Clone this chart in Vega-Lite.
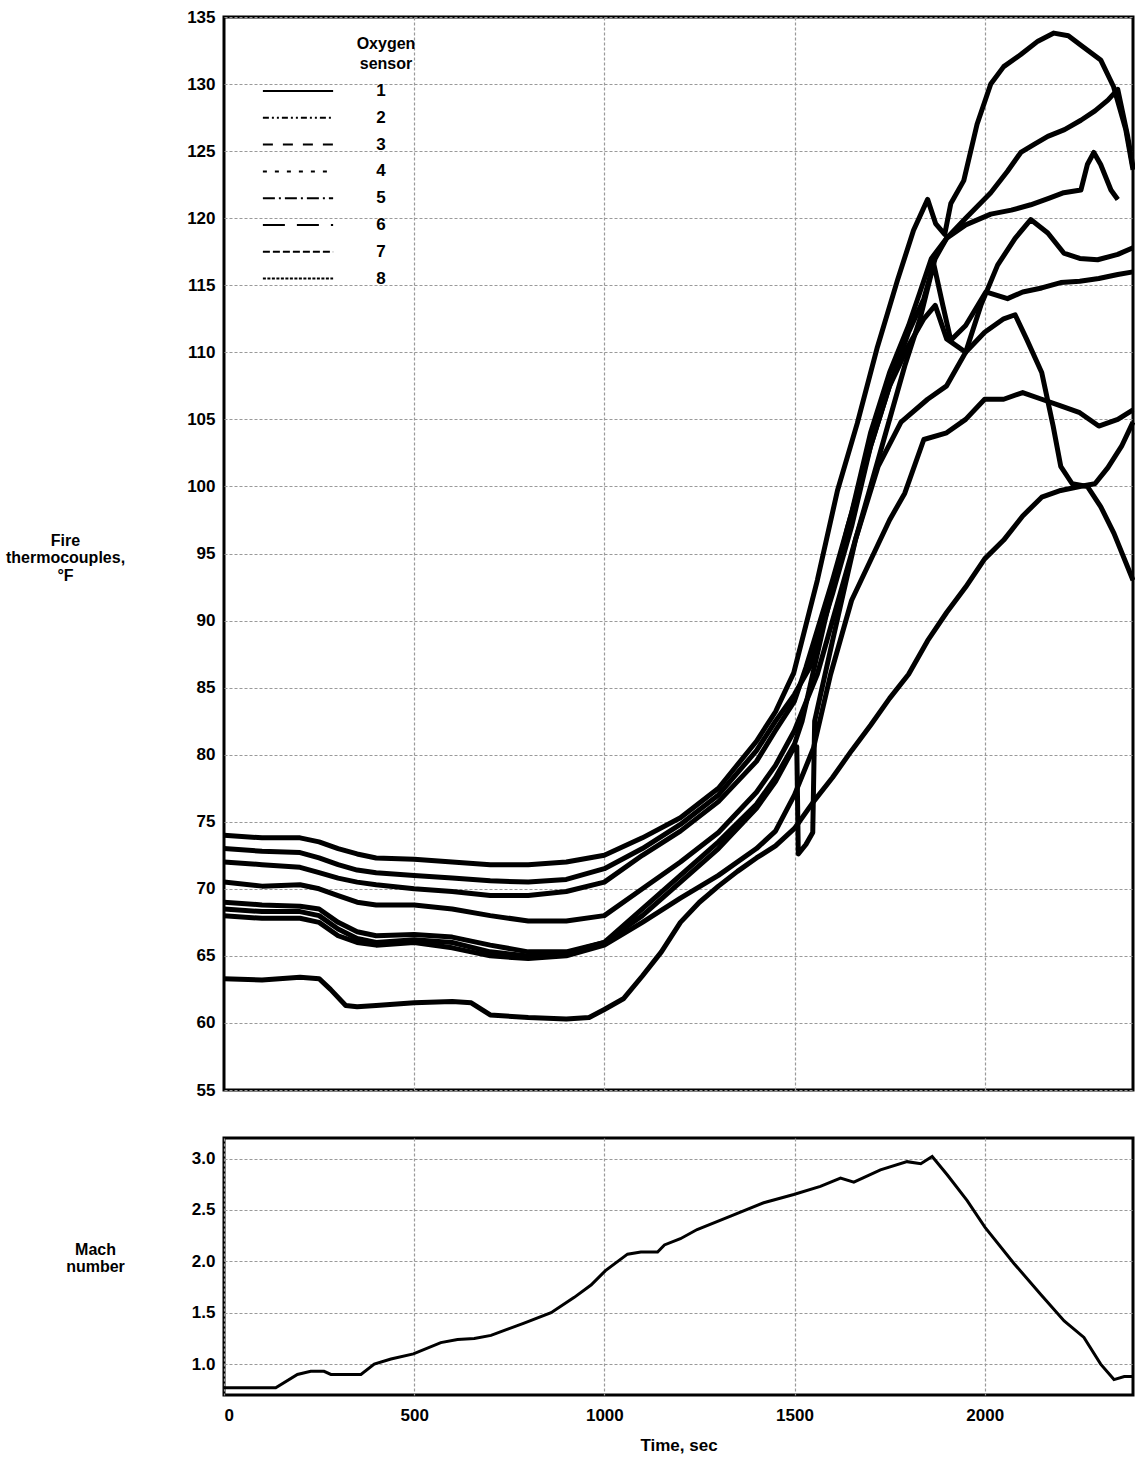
{
  "$schema": "https://vega.github.io/schema/vega-lite/v6.json",
  "padding": {"left": 3, "top": 6, "right": 0, "bottom": 0},
  "background": "white",
  "config": {
    "font": "Liberation Sans",
    "view": {"stroke": "black", "strokeWidth": 3},
    "axis": {
      "labelFont": "Liberation Sans", "labelFontSize": 17, "labelFontWeight": "bold", "labelColor": "black",
      "titleFont": "Liberation Sans", "titleFontSize": 16, "titleFontWeight": "bold", "titleColor": "black",
      "grid": true, "gridColor": "#9a9a9a", "gridDash": [3, 2], "gridWidth": 1.2,
      "domain": false, "ticks": false
    },
    "legend": {"labelFont": "Liberation Sans", "titleFont": "Liberation Sans"}
  },
  "datasets": {
    "tc": [
      {"s":"7","t":0,"v":74},{"s":"7","t":100,"v":73.8},{"s":"7","t":200,"v":73.8},{"s":"7","t":250,"v":73.5},{"s":"7","t":300,"v":73},{"s":"7","t":350,"v":72.6},{"s":"7","t":400,"v":72.3},{"s":"7","t":500,"v":72.2},{"s":"7","t":600,"v":72},{"s":"7","t":700,"v":71.8},{"s":"7","t":800,"v":71.8},{"s":"7","t":900,"v":72},{"s":"7","t":1000,"v":72.5},{"s":"7","t":1100,"v":73.8},{"s":"7","t":1200,"v":75.3},{"s":"7","t":1300,"v":77.5},{"s":"7","t":1400,"v":81},{"s":"7","t":1450,"v":83.2},{"s":"7","t":1498,"v":86.1},{"s":"7","t":1560,"v":93},{"s":"7","t":1613,"v":99.7},{"s":"7","t":1665,"v":104.7},{"s":"7","t":1718,"v":110.4},{"s":"7","t":1771,"v":115.4},{"s":"7","t":1813,"v":119.1},{"s":"7","t":1850,"v":121.4},{"s":"7","t":1871,"v":119.6},{"s":"7","t":1895,"v":118.8},{"s":"7","t":1911,"v":121.1},{"s":"7","t":1945,"v":122.8},{"s":"7","t":1980,"v":127},{"s":"7","t":2016,"v":130},{"s":"7","t":2050,"v":131.3},{"s":"7","t":2095,"v":132.2},{"s":"7","t":2140,"v":133.2},{"s":"7","t":2182,"v":133.8},{"s":"7","t":2220,"v":133.6},{"s":"7","t":2253,"v":132.9},{"s":"7","t":2305,"v":131.8},{"s":"7","t":2339,"v":129.8},{"s":"7","t":2371,"v":126.6},{"s":"7","t":2390,"v":123.6},
      {"s":"3","t":0,"v":73},{"s":"3","t":100,"v":72.8},{"s":"3","t":200,"v":72.7},{"s":"3","t":250,"v":72.3},{"s":"3","t":300,"v":71.8},{"s":"3","t":350,"v":71.4},{"s":"3","t":400,"v":71.2},{"s":"3","t":500,"v":71},{"s":"3","t":600,"v":70.8},{"s":"3","t":700,"v":70.6},{"s":"3","t":800,"v":70.5},{"s":"3","t":900,"v":70.7},{"s":"3","t":1000,"v":71.5},{"s":"3","t":1100,"v":73},{"s":"3","t":1200,"v":74.8},{"s":"3","t":1300,"v":77},{"s":"3","t":1400,"v":80.3},{"s":"3","t":1450,"v":82.5},{"s":"3","t":1500,"v":84.5},{"s":"3","t":1540,"v":86.5},{"s":"3","t":1600,"v":92},{"s":"3","t":1650,"v":97},{"s":"3","t":1700,"v":103},{"s":"3","t":1750,"v":107.5},{"s":"3","t":1800,"v":111.5},{"s":"3","t":1840,"v":114},{"s":"3","t":1870,"v":117},{"s":"3","t":1900,"v":118.5},{"s":"3","t":1950,"v":120},{"s":"3","t":2016,"v":121.9},{"s":"3","t":2060,"v":123.5},{"s":"3","t":2095,"v":124.9},{"s":"3","t":2130,"v":125.5},{"s":"3","t":2166,"v":126.1},{"s":"3","t":2210,"v":126.6},{"s":"3","t":2253,"v":127.3},{"s":"3","t":2290,"v":128},{"s":"3","t":2324,"v":128.8},{"s":"3","t":2350,"v":129.6},{"s":"3","t":2376,"v":126.1},{"s":"3","t":2390,"v":123.8},
      {"s":"6","t":0,"v":72},{"s":"6","t":100,"v":71.8},{"s":"6","t":200,"v":71.6},{"s":"6","t":250,"v":71.2},{"s":"6","t":300,"v":70.8},{"s":"6","t":350,"v":70.5},{"s":"6","t":400,"v":70.3},{"s":"6","t":500,"v":70},{"s":"6","t":600,"v":69.8},{"s":"6","t":700,"v":69.5},{"s":"6","t":800,"v":69.5},{"s":"6","t":900,"v":69.8},{"s":"6","t":1000,"v":70.5},{"s":"6","t":1100,"v":72.5},{"s":"6","t":1200,"v":74.3},{"s":"6","t":1300,"v":76.5},{"s":"6","t":1400,"v":79.5},{"s":"6","t":1450,"v":81.8},{"s":"6","t":1500,"v":84},{"s":"6","t":1530,"v":86.5},{"s":"6","t":1600,"v":93},{"s":"6","t":1650,"v":98},{"s":"6","t":1700,"v":104},{"s":"6","t":1750,"v":108.5},{"s":"6","t":1800,"v":112},{"s":"6","t":1830,"v":114.5},{"s":"6","t":1860,"v":117},{"s":"6","t":1900,"v":118.5},{"s":"6","t":1950,"v":119.5},{"s":"6","t":2016,"v":120.3},{"s":"6","t":2070,"v":120.6},{"s":"6","t":2121,"v":121},{"s":"6","t":2170,"v":121.5},{"s":"6","t":2208,"v":121.9},{"s":"6","t":2253,"v":122.1},{"s":"6","t":2270,"v":124},{"s":"6","t":2287,"v":124.9},{"s":"6","t":2305,"v":124},{"s":"6","t":2332,"v":122.1},{"s":"6","t":2350,"v":121.4},
      {"s":"5","t":0,"v":70.5},{"s":"5","t":100,"v":70.2},{"s":"5","t":200,"v":70.3},{"s":"5","t":250,"v":70},{"s":"5","t":300,"v":69.5},{"s":"5","t":350,"v":69},{"s":"5","t":400,"v":68.8},{"s":"5","t":500,"v":68.8},{"s":"5","t":600,"v":68.5},{"s":"5","t":700,"v":68},{"s":"5","t":800,"v":67.6},{"s":"5","t":900,"v":67.6},{"s":"5","t":1000,"v":68},{"s":"5","t":1100,"v":70},{"s":"5","t":1200,"v":72},{"s":"5","t":1300,"v":74.2},{"s":"5","t":1400,"v":77.2},{"s":"5","t":1450,"v":79.2},{"s":"5","t":1500,"v":81.8},{"s":"5","t":1560,"v":86},{"s":"5","t":1620,"v":92},{"s":"5","t":1680,"v":98},{"s":"5","t":1740,"v":104},{"s":"5","t":1790,"v":109},{"s":"5","t":1830,"v":112.5},{"s":"5","t":1866,"v":116.6},{"s":"5","t":1890,"v":113.5},{"s":"5","t":1911,"v":110.9},{"s":"5","t":1950,"v":112},{"s":"5","t":2003,"v":114.5},{"s":"5","t":2060,"v":114},{"s":"5","t":2100,"v":114.5},{"s":"5","t":2150,"v":114.8},{"s":"5","t":2200,"v":115.2},{"s":"5","t":2250,"v":115.3},{"s":"5","t":2300,"v":115.5},{"s":"5","t":2350,"v":115.8},{"s":"5","t":2390,"v":116},
      {"s":"2","t":0,"v":68.5},{"s":"2","t":100,"v":68.3},{"s":"2","t":200,"v":68.3},{"s":"2","t":250,"v":68},{"s":"2","t":300,"v":67},{"s":"2","t":350,"v":66.3},{"s":"2","t":400,"v":66},{"s":"2","t":500,"v":66.2},{"s":"2","t":600,"v":66},{"s":"2","t":700,"v":65.3},{"s":"2","t":800,"v":65},{"s":"2","t":900,"v":65.2},{"s":"2","t":1000,"v":66},{"s":"2","t":1100,"v":68.5},{"s":"2","t":1200,"v":71},{"s":"2","t":1300,"v":73.5},{"s":"2","t":1400,"v":76.3},{"s":"2","t":1450,"v":78.3},{"s":"2","t":1500,"v":80.8},{"s":"2","t":1520,"v":82.5},{"s":"2","t":1580,"v":90},{"s":"2","t":1640,"v":97},{"s":"2","t":1700,"v":103},{"s":"2","t":1750,"v":107.5},{"s":"2","t":1800,"v":110.5},{"s":"2","t":1840,"v":112.5},{"s":"2","t":1870,"v":113.5},{"s":"2","t":1900,"v":111},{"s":"2","t":1950,"v":110},{"s":"2","t":2000,"v":111.5},{"s":"2","t":2050,"v":112.5},{"s":"2","t":2080,"v":112.8},{"s":"2","t":2110,"v":111},{"s":"2","t":2150,"v":108.5},{"s":"2","t":2180,"v":104.5},{"s":"2","t":2200,"v":101.5},{"s":"2","t":2230,"v":100.2},{"s":"2","t":2270,"v":100},{"s":"2","t":2305,"v":98.5},{"s":"2","t":2340,"v":96.5},{"s":"2","t":2390,"v":93},
      {"s":"4","t":0,"v":69},{"s":"4","t":100,"v":68.8},{"s":"4","t":200,"v":68.7},{"s":"4","t":250,"v":68.5},{"s":"4","t":300,"v":67.5},{"s":"4","t":350,"v":66.8},{"s":"4","t":400,"v":66.5},{"s":"4","t":500,"v":66.6},{"s":"4","t":600,"v":66.4},{"s":"4","t":700,"v":65.8},{"s":"4","t":800,"v":65.3},{"s":"4","t":900,"v":65.3},{"s":"4","t":1000,"v":66},{"s":"4","t":1100,"v":68},{"s":"4","t":1200,"v":70.5},{"s":"4","t":1300,"v":73},{"s":"4","t":1400,"v":76},{"s":"4","t":1450,"v":78},{"s":"4","t":1500,"v":80.6},{"s":"4","t":1506,"v":80.6},{"s":"4","t":1510,"v":72.6},{"s":"4","t":1530,"v":73.3},{"s":"4","t":1548,"v":74.2},{"s":"4","t":1553,"v":82.5},{"s":"4","t":1600,"v":88.5},{"s":"4","t":1660,"v":96},{"s":"4","t":1720,"v":101.5},{"s":"4","t":1780,"v":104.8},{"s":"4","t":1850,"v":106.5},{"s":"4","t":1900,"v":107.5},{"s":"4","t":1950,"v":110},{"s":"4","t":1990,"v":113.5},{"s":"4","t":2034,"v":116.5},{"s":"4","t":2080,"v":118.5},{"s":"4","t":2121,"v":119.9},{"s":"4","t":2166,"v":118.9},{"s":"4","t":2208,"v":117.4},{"s":"4","t":2250,"v":117},{"s":"4","t":2297,"v":116.9},{"s":"4","t":2350,"v":117.3},{"s":"4","t":2390,"v":117.8},
      {"s":"1","t":0,"v":68},{"s":"1","t":100,"v":67.8},{"s":"1","t":200,"v":67.8},{"s":"1","t":250,"v":67.5},{"s":"1","t":300,"v":66.5},{"s":"1","t":350,"v":66},{"s":"1","t":400,"v":65.8},{"s":"1","t":500,"v":66},{"s":"1","t":600,"v":65.6},{"s":"1","t":700,"v":65},{"s":"1","t":800,"v":64.8},{"s":"1","t":900,"v":65},{"s":"1","t":1000,"v":65.8},{"s":"1","t":1100,"v":67.5},{"s":"1","t":1200,"v":69.3},{"s":"1","t":1300,"v":71},{"s":"1","t":1400,"v":73},{"s":"1","t":1450,"v":74.3},{"s":"1","t":1500,"v":77},{"s":"1","t":1550,"v":80.5},{"s":"1","t":1595,"v":86},{"s":"1","t":1650,"v":91.5},{"s":"1","t":1700,"v":94.5},{"s":"1","t":1750,"v":97.5},{"s":"1","t":1790,"v":99.5},{"s":"1","t":1840,"v":103.5},{"s":"1","t":1900,"v":104},{"s":"1","t":1950,"v":105},{"s":"1","t":2000,"v":106.5},{"s":"1","t":2050,"v":106.5},{"s":"1","t":2100,"v":107},{"s":"1","t":2150,"v":106.5},{"s":"1","t":2200,"v":106},{"s":"1","t":2250,"v":105.5},{"s":"1","t":2300,"v":104.5},{"s":"1","t":2350,"v":105},{"s":"1","t":2390,"v":105.7},
      {"s":"8","t":0,"v":63.3},{"s":"8","t":100,"v":63.2},{"s":"8","t":200,"v":63.4},{"s":"8","t":250,"v":63.3},{"s":"8","t":280,"v":62.5},{"s":"8","t":320,"v":61.3},{"s":"8","t":350,"v":61.2},{"s":"8","t":400,"v":61.3},{"s":"8","t":500,"v":61.5},{"s":"8","t":600,"v":61.6},{"s":"8","t":650,"v":61.5},{"s":"8","t":700,"v":60.6},{"s":"8","t":800,"v":60.4},{"s":"8","t":900,"v":60.3},{"s":"8","t":960,"v":60.4},{"s":"8","t":1000,"v":61},{"s":"8","t":1050,"v":61.8},{"s":"8","t":1100,"v":63.5},{"s":"8","t":1150,"v":65.3},{"s":"8","t":1200,"v":67.5},{"s":"8","t":1250,"v":69},{"s":"8","t":1300,"v":70.2},{"s":"8","t":1350,"v":71.3},{"s":"8","t":1400,"v":72.3},{"s":"8","t":1450,"v":73.2},{"s":"8","t":1500,"v":74.5},{"s":"8","t":1550,"v":76.5},{"s":"8","t":1600,"v":78.3},{"s":"8","t":1650,"v":80.3},{"s":"8","t":1700,"v":82.2},{"s":"8","t":1750,"v":84.2},{"s":"8","t":1800,"v":86},{"s":"8","t":1850,"v":88.5},{"s":"8","t":1900,"v":90.6},{"s":"8","t":1950,"v":92.5},{"s":"8","t":2000,"v":94.6},{"s":"8","t":2050,"v":96},{"s":"8","t":2100,"v":97.8},{"s":"8","t":2150,"v":99.2},{"s":"8","t":2200,"v":99.7},{"s":"8","t":2250,"v":100},{"s":"8","t":2290,"v":100.2},{"s":"8","t":2324,"v":101.4},{"s":"8","t":2360,"v":103},{"s":"8","t":2390,"v":104.8}
    ],
    "mach": [
      {"t":0,"m":0.77},{"t":136,"m":0.77},{"t":193,"m":0.9},{"t":228,"m":0.93},{"t":263,"m":0.93},{"t":281,"m":0.9},{"t":360,"m":0.9},{"t":395,"m":1.0},{"t":439,"m":1.05},{"t":498,"m":1.1},{"t":570,"m":1.21},{"t":614,"m":1.24},{"t":658,"m":1.25},{"t":702,"m":1.28},{"t":746,"m":1.34},{"t":789,"m":1.4},{"t":860,"m":1.5},{"t":921,"m":1.65},{"t":965,"m":1.77},{"t":1003,"m":1.91},{"t":1061,"m":2.07},{"t":1096,"m":2.09},{"t":1140,"m":2.09},{"t":1158,"m":2.16},{"t":1200,"m":2.22},{"t":1244,"m":2.31},{"t":1332,"m":2.44},{"t":1419,"m":2.57},{"t":1498,"m":2.65},{"t":1568,"m":2.73},{"t":1621,"m":2.81},{"t":1656,"m":2.77},{"t":1726,"m":2.89},{"t":1796,"m":2.97},{"t":1832,"m":2.95},{"t":1862,"m":3.02},{"t":1902,"m":2.84},{"t":1954,"m":2.59},{"t":2001,"m":2.33},{"t":2077,"m":1.98},{"t":2147,"m":1.68},{"t":2209,"m":1.42},{"t":2261,"m":1.26},{"t":2305,"m":1.0},{"t":2340,"m":0.85},{"t":2367,"m":0.88},{"t":2390,"m":0.88}
    ]
  },
  "spacing": 36,
  "vconcat": [
    {
      "width": 909,
      "height": 1073,
      "data": {"name": "tc"},
      "encoding": {
        "x": {"field": "t", "type": "quantitative", "scale": {"domain": [0, 2390], "nice": false, "zero": false},
              "axis": {"values": [500, 1000, 1500, 2000], "labels": false, "title": null}},
        "y": {"field": "v", "type": "quantitative", "scale": {"domain": [55, 135], "nice": false, "zero": false},
              "axis": {"values": [55,60,65,70,75,80,85,90,95,100,105,110,115,120,125,130,135],
                       "labelPadding": 9,
                       "title": ["Fire", "thermocouples,", "°F"], "titleAngle": 0, "titleAlign": "center",
                       "titleBaseline": "middle", "titleX": -159, "titleY": 523, "titleLineHeight": 17.5}}
      },
      "layer": [
        {
          "mark": {"type": "line", "strokeWidth": 2, "color": "black"},
          "encoding": {
            "strokeDash": {
              "field": "s", "type": "nominal",
              "scale": {"domain": ["1","2","3","4","5","6","7","8"],
                        "range": [[1,0],[6,3,2,3,2,3],[10,10],[4,8],[12,4,2,4],[22,12],[7,3],[3,1.5]]},
              "legend": {
                "orient": "none", "legendX": 61, "legendY": 19,
                "title": ["Oxygen", "sensor"], "titleFontSize": 16, "titleFontWeight": "bold", "titleColor": "black",
                "titleLineHeight": 20, "titleAnchor": "end", "titleAlign": "center", "titlePadding": 6,
                "symbolType": "M-3,0H3", "symbolSize": 548, "symbolStrokeWidth": 2,
                "symbolStrokeColor": "black", "symbolFillColor": "transparent",
                "labelFontSize": 17, "labelFontWeight": "bold", "labelColor": "black",
                "labelAlign": "center", "labelOffset": 70, "rowPadding": 5.8
              }
            }
          }
        },
        {
          "mark": {"type": "line", "strokeWidth": 5, "color": "black", "strokeJoin": "round"},
          "encoding": {"detail": {"field": "s", "type": "nominal"}}
        }
      ]
    },
    {
      "width": 909,
      "height": 257,
      "data": {"name": "mach"},
      "mark": {"type": "line", "strokeWidth": 3, "color": "black"},
      "encoding": {
        "x": {"field": "t", "type": "quantitative", "scale": {"domain": [0, 2390], "nice": false, "zero": false},
              "axis": {"values": [0, 500, 1000, 1500, 2000], "format": "d", "labelPadding": 12, "title": "Time, sec",
                       "titlePadding": 14, "titleFontSize": 17}},
        "y": {"field": "m", "type": "quantitative", "scale": {"domain": [0.7, 3.2], "nice": false, "zero": false},
              "axis": {"values": [1, 1.5, 2, 2.5, 3], "format": ".1f", "labelPadding": 9,
                       "title": ["Mach", "number"], "titleAngle": 0, "titleAlign": "center",
                       "titleBaseline": "middle", "titleX": -129, "titleY": 111, "titleLineHeight": 17.5}}
      }
    }
  ]
}
